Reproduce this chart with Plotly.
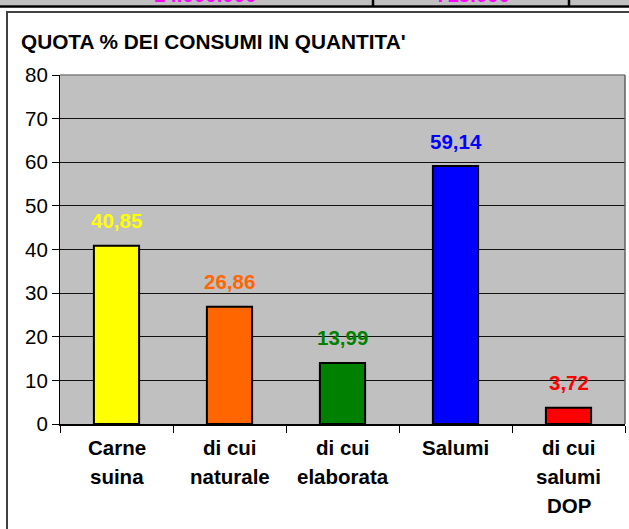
import plotly.graph_objects as go

# ---- data ----
categories = ["Carne\nsuina", "di cui\nnaturale", "di cui\nelaborata", "Salumi", "di cui\nsalumi\nDOP"]
values = [40.85, 26.86, 13.99, 59.14, 3.72]
bar_colors = ["#FFFF00", "#FF6600", "#008000", "#0000FF", "#FF0000"]
title_text = "QUOTA % DEI CONSUMI IN QUANTITA'"
y_ticks = [0, 10, 20, 30, 40, 50, 60, 70, 80]
header_texts = ["14.000.000", "715.000"]

# ---- layout geometry (pixels) ----
W, H = 629, 529
L, R, T, B = 60, 625, 75, 424
FONT = "Liberation Sans, Arial, sans-serif"
FS = 20.5


def px2x(px):
    return (px - L) / (R - L)


def py2y(py):
    return (B - py) / (B - T)


fig = go.Figure()
fig.add_trace(go.Bar(
    x=categories, y=values, width=0.4,
    marker=dict(color=bar_colors, line=dict(color="black", width=2)),
    hoverinfo="skip",
))

annotations = []
# value labels
for c, v, col in zip(categories, values, bar_colors):
    annotations.append(dict(
        x=c, y=v, xref="x", yref="y", yshift=25, yanchor="middle",
        text="<b>" + f"{v:.2f}".replace(".", ",") + "</b>",
        showarrow=False, font=dict(family=FONT, size=FS, color=col),
    ))
# category labels
for c in categories:
    for i, line in enumerate(c.split("\n")):
        annotations.append(dict(
            x=c, y=0, xref="x", yref="y", yshift=-(23 + 29 * i), yanchor="middle",
            text="<b>" + line + "</b>", showarrow=False,
            font=dict(family=FONT, size=FS, color="black"),
        ))
# title
annotations.append(dict(
    x=px2x(19), y=py2y(42), xref="paper", yref="paper", xanchor="left", yanchor="middle",
    text="<b>" + title_text + "</b>", showarrow=False,
    font=dict(family=FONT, size=20.8, color="black"),
))
# cropped header texts (magenta), only their lowest pixels show in the reference
for t, cx in zip(header_texts, [205, 473]):
    annotations.append(dict(
        x=px2x(cx), y=py2y(8.0), xref="paper", yref="paper", xanchor="center", yanchor="bottom",
        text="<b>" + t + "</b>", showarrow=False,
        font=dict(family=FONT, size=FS, color="#FF00FF"),
    ))

shapes = [
    # header strip
    dict(type="rect", xref="paper", yref="paper", x0=px2x(-5), x1=px2x(640), y0=py2y(5.5), y1=py2y(-10),
         fillcolor="#C0C0C0", line=dict(width=0), layer="below"),
    dict(type="line", xref="paper", yref="paper", x0=px2x(-5), x1=px2x(640), y0=py2y(6.6), y1=py2y(6.6),
         line=dict(color="black", width=2.5)),
    dict(type="line", xref="paper", yref="paper", x0=px2x(373), x1=px2x(373), y0=py2y(6.6), y1=py2y(-5),
         line=dict(color="black", width=2.5)),
    dict(type="line", xref="paper", yref="paper", x0=px2x(569), x1=px2x(569), y0=py2y(6.6), y1=py2y(-5),
         line=dict(color="black", width=2.5)),
    # outer chart frame
    dict(type="rect", xref="paper", yref="paper", x0=px2x(7), x1=px2x(650), y0=py2y(560), y1=py2y(12),
         line=dict(color="#404040", width=2), fillcolor="rgba(0,0,0,0)"),
    # plot-area border (top & right, gray)
    dict(type="line", xref="paper", yref="paper", x0=0, x1=1, y0=1, y1=1,
         line=dict(color="#808080", width=1.5)),
    dict(type="line", xref="paper", yref="paper", x0=1, x1=1, y0=0, y1=1,
         line=dict(color="#606060", width=1.5)),
]

fig.update_layout(
    width=W, height=H,
    margin=dict(l=L, r=W - R, t=T, b=H - B, pad=0),
    paper_bgcolor="white", plot_bgcolor="#C0C0C0",
    showlegend=False, bargap=0.6,
    font=dict(family=FONT, size=FS, color="black"),
    annotations=annotations, shapes=shapes,
    xaxis=dict(
        type="category", tickson="boundaries", ticks="outside", ticklen=7, tickcolor="black",
        showticklabels=False, showline=True, linecolor="black", linewidth=1.5,
        showgrid=False, fixedrange=True,
    ),
    yaxis=dict(
        range=[0, 80], tickvals=y_ticks, ticks="outside", ticklen=7, tickcolor="black",
        showline=True, linecolor="black", linewidth=1, showgrid=True, gridcolor="#111111",
        gridwidth=1, zeroline=False, tickfont=dict(family=FONT, size=FS, color="black"),
        fixedrange=True,
    ),
)

fig.write_html(
    "out.html",
    config={"displayModeBar": False, "staticPlot": True},
    post_script="document.body.style.margin='0';document.body.style.overflow='hidden';",
)
